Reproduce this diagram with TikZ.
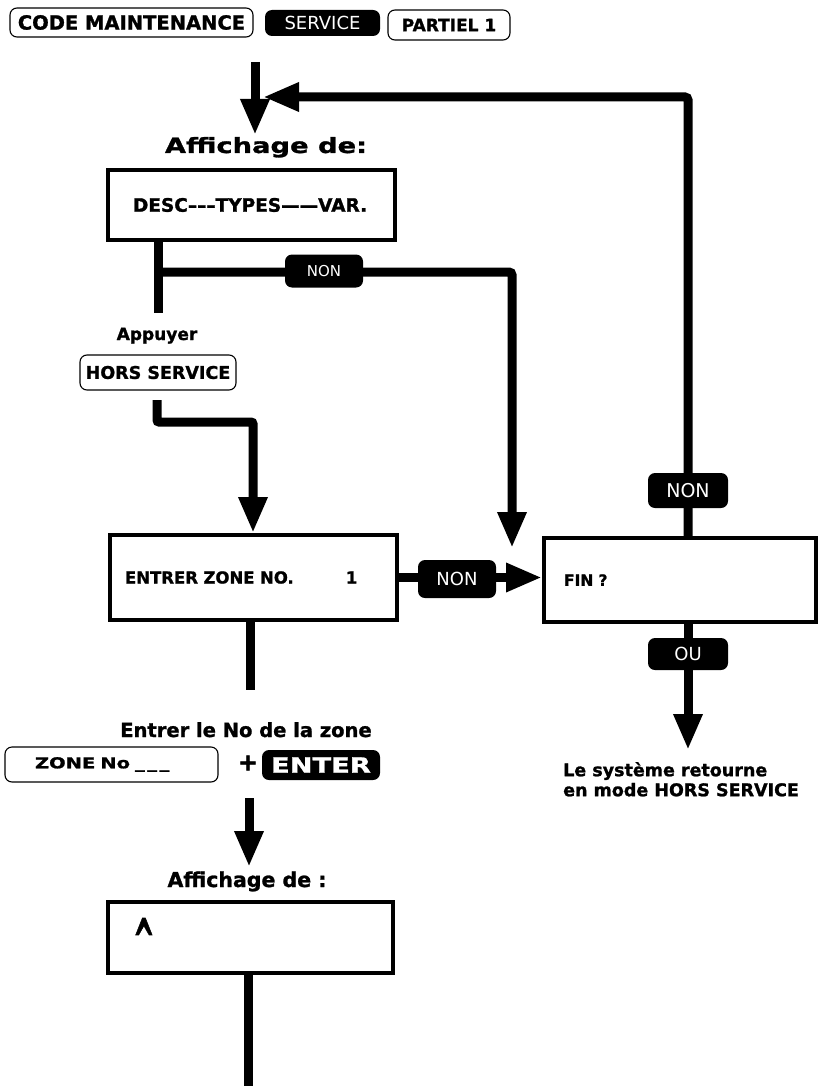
\documentclass[tikz,border=0pt]{standalone}
\usepackage{fontspec}
\usepackage{graphicx}
\setmainfont{DejaVu Sans}[BoldFeatures={FakeBold=1.3}]
\newfontfamily\widefont{DejaVu Sans}[FakeStretch=1.3, BoldFeatures={FakeBold=1.3}]
\usetikzlibrary{arrows.meta}
\newcommand{\fsz}[2]{\fontsize{#1pt}{#2pt}\selectfont}

\begin{document}
\begin{tikzpicture}[x=1pt,y=-1pt,
  key/.style={draw, line width=1.1pt, rounded corners=7pt, inner sep=0pt},
  keyblk/.style={fill=black, text=white, rounded corners=7pt, inner sep=0pt},
  tag/.style={fill=black, text=white, rounded corners=7pt, inner sep=0pt},
  disp/.style={draw, line width=4pt, inner sep=0pt, align=left},
  flow/.style={line width=9pt},
  arr/.style={flow, -{Triangle[length=36pt,width=27pt]}},
  lbl/.style={inner sep=0pt},
]
\useasboundingbox (0,0) rectangle (819,1086);

% key sequence at the top
\node[key, minimum width=243pt, minimum height=29pt, font=\bfseries\fsz{19.5}{22}] (code) at (131.5,22.5) {CODE MAINTENANCE};
\node[keyblk, minimum width=115pt, minimum height=26pt, font=\fsz{18}{20}] (service) at (322.5,23) {SERVICE};
\node[key, minimum width=122pt, minimum height=30pt, font=\bfseries\fsz{17}{18}] (partiel) at (449,25) {PARTIEL 1};

% first display
\node[lbl, anchor=base, font=\widefont\bfseries\fsz{21}{24}] (aff1) at (266,153) {Affichage de:};
\node[disp, minimum width=287pt, minimum height=70pt, text width=237pt, font=\bfseries\fsz{18.5}{20}] (desc) at (251.5,205) {DESC–––TYPES——VAR.};

% key press
\node[lbl, anchor=base, font=\bfseries\fsz{17}{20}] (app) at (157,340) {Appuyer};
\node[key, minimum width=156pt, minimum height=35pt, font=\bfseries\fsz{17.5}{20}] (hors) at (158,372.5) {HORS SERVICE};

% zone prompt and end question
\node[disp, minimum width=287pt, minimum height=85pt, text width=257pt, font=\bfseries\fsz{16.5}{18}] (entrer) at (253.5,577.5) {ENTRER ZONE NO.\hspace{52pt}1};
\node[disp, minimum width=272pt, minimum height=84pt, text width=232pt, font=\bfseries\fsz{15.5}{18}] (fin) at (680,580) {FIN ?};
\node[lbl, anchor=north west, align=left, font=\bfseries\fsz{17.5}{20}] (ret) at (563,762) {Le système retourne\\en mode HORS SERVICE};

% zone number entry
\node[lbl, anchor=base, font=\bfseries\fsz{19.5}{22}] (ent) at (246,737) {Entrer le No de la zone};
\node[key, minimum width=213pt, minimum height=35pt, text width=153pt, align=left, font=\widefont\bfseries\fsz{15}{18}] (zone) at (111.5,764.5) {ZONE No \_\,\_\,\_};
\node[lbl, font=\bfseries\fsz{24}{24}] (plus) at (248,763) {+};
\node[keyblk, minimum width=118pt, minimum height=30pt, font=\widefont\bfseries\fsz{21}{22}] (enter) at (321,765) {ENTER};

% second display
\node[lbl, anchor=base, font=\bfseries\fsz{20.5}{22}] (aff2) at (247,887) {Affichage de :};
\node[disp, minimum width=285pt, minimum height=71pt, text width=235pt, font=\bfseries\fsz{26}{26}] (cursor) at (250.5,937.5) {\raisebox{-26pt}[0pt][0pt]{\scalebox{1}[2.4]{\textasciicircum}}};

% helper coordinates
\coordinate (entry) at (255,62);
\coordinate (entrytip) at (255,135);
\coordinate (loopx) at (688,0);
\coordinate (looptip) at (263,97);
\coordinate (dx) at (158,0);
\coordinate (bry) at (0,272);
\coordinate (b1) at (158,313);
\coordinate (btip) at (512,548);
\coordinate (h1) at (157,400);
\coordinate (hy) at (0,422);
\coordinate (ex) at (253,0);
\coordinate (outip) at (688,750);
\coordinate (c1) at (250,690);
\coordinate (c2) at (249,798);
\coordinate (c2tip) at (249,867);
\coordinate (c3) at (248,1086);

% connectors
\draw[arr] (entry) -- (entrytip);
\draw[arr, rounded corners=3pt] (fin.north -| loopx) |- (looptip);
\draw[flow] (desc.south -| dx) -- (b1);
\draw[arr, rounded corners=3pt] (dx |- bry) -| (btip);
\draw[arr, rounded corners=2pt] (h1) |- (ex |- hy) -- (entrer.north -| ex);
\draw[arr] (entrer.east) -- (fin.west |- entrer.east);
\draw[arr] (fin.south -| loopx) -- (outip);
\draw[flow] (entrer.south -| c1) -- (c1);
\draw[arr] (c2) -- (c2tip);
\draw[flow] (cursor.south -| c3) -- (c3);

% answer tags on the connectors
\node[tag, minimum width=78pt, minimum height=33pt, font=\fsz{15}{16}] (non1) at (324,271) {NON};
\node[tag, minimum width=78pt, minimum height=38pt, font=\fsz{18}{20}] (non2) at (457,579) {NON};
\node[tag, minimum width=80pt, minimum height=35pt, font=\fsz{19}{20}] (non3) at (688,490.5) {NON};
\node[tag, minimum width=80pt, minimum height=32pt, font=\fsz{18}{20}] (ou) at (688,654) {OU};
\end{tikzpicture}
\end{document}
